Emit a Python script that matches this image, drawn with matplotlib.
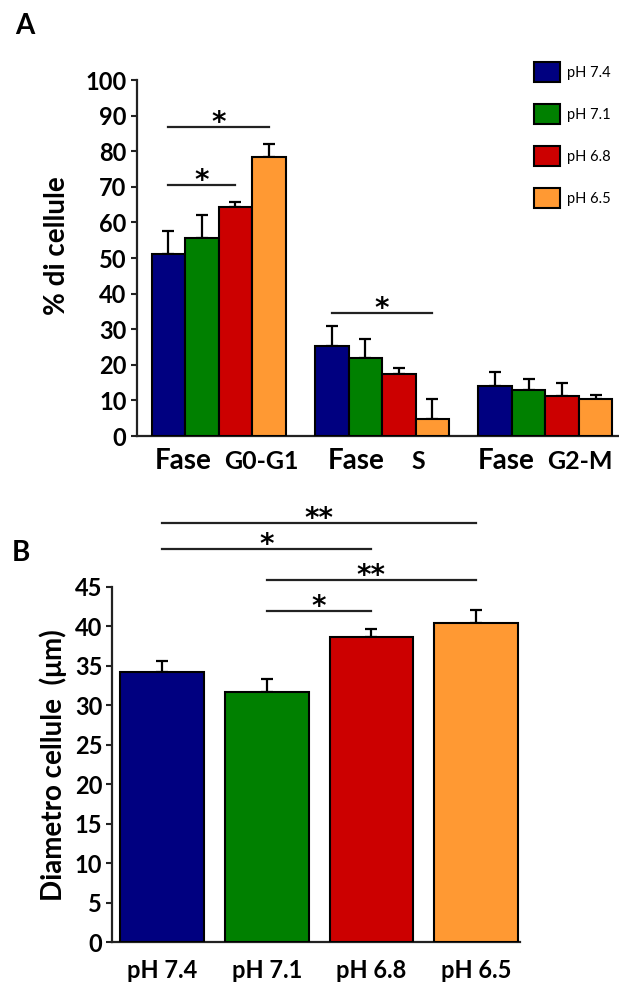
import matplotlib
matplotlib.use('Agg')
import matplotlib.pyplot as plt
from matplotlib.patches import Patch
import matplotlib.transforms as mtransforms
import numpy as np

plt.rcParams['font.family'] = ['Lato', 'DejaVu Sans']
plt.rcParams['font.weight'] = 'bold'

# ---------------- data ----------------
series = ['pH 7.4', 'pH 7.1', 'pH 6.8', 'pH 6.5']
colors = ['#000080', '#008000', '#CC0000', '#FF9933']
phases = ['G0-G1', 'S', 'G2-M']

pct_74 = [51.2, 25.3, 14.0]
pct_71 = [55.7, 21.9, 12.9]
pct_68 = [64.4, 17.4, 11.2]
pct_65 = [78.5, 4.8, 10.4]
err_74 = [6.4, 5.6, 4.0]
err_71 = [6.5, 5.3, 3.1]
err_68 = [1.4, 1.7, 3.7]
err_65 = [3.4, 5.6, 1.1]

diam = [34.2, 31.7, 38.7, 40.5]
diam_err = [1.4, 1.6, 1.0, 1.6]

# significance: (group, bar_i, bar_j, y, label)
sig_A = [(0, 0, 3, 86.8, '*'), (0, 0, 2, 70.5, '*'), (1, 0, 3, 34.5, '*')]
# (bar_i, bar_j, y, label)
sig_B = [(0, 3, 53.1, '**'), (0, 2, 49.8, '*'), (1, 3, 45.9, '**'), (1, 2, 42.0, '*')]

W, H = 619, 984
fig = plt.figure(figsize=(W / 100, H / 100), dpi=100)

def px_axes(l, t, r, b):
    return fig.add_axes([l / W, 1 - b / H, (r - l) / W, (b - t) / H])

AX_COL = '#222222'

# ---------------- Panel A ----------------
axA = px_axes(137, 80, 619, 436)
means = [pct_74, pct_71, pct_68, pct_65]
errs = [err_74, err_71, err_68, err_65]
bw = 0.205
gx = np.arange(len(phases))
for k in range(4):
    xs = gx + (k - 1.5) * bw
    axA.errorbar(xs, means[k], yerr=[np.zeros(3), errs[k]], fmt='none',
                 ecolor='black', elinewidth=1.6, capsize=4.5, capthick=1.6, zorder=2)
    axA.bar(xs, means[k], width=bw, color=colors[k], edgecolor='black',
            linewidth=1.5, zorder=3)
axA.set_xlim(-0.5, 2.45)
axA.set_ylim(0, 100)
axA.set_yticks(np.arange(0, 101, 10))
axA.set_xticks([])
for s in ['top', 'right']:
    axA.spines[s].set_visible(False)
for s in ['left', 'bottom']:
    axA.spines[s].set_linewidth(1.6)
    axA.spines[s].set_color(AX_COL)
axA.tick_params(axis='y', direction='out', length=4.5, width=1.5, labelsize=17,
                pad=3, colors=AX_COL, labelcolor='black')
axA.set_ylabel('% di cellule', fontsize=20, fontweight='bold')
axA.yaxis.set_label_coords(-0.139, 0.534)

# category labels: "Fase" + phase name
trA = mtransforms.blended_transform_factory(axA.transData, axA.transAxes)
fase_off = [-0.391, -0.333, -0.416]
name_off = [0.031, 0.180, 0.012]
for g, name in enumerate(phases):
    axA.text(g + fase_off[g], -0.035, 'Fase', transform=trA, ha='left', va='top',
             fontsize=20, fontweight='bold')
    axA.text(g + name_off[g], -0.040, name, transform=trA, ha='left', va='top',
             fontsize=18, fontweight='bold')

for g, i, j, y, lab in sig_A:
    x1 = g + (i - 1.5) * bw
    x2 = g + (j - 1.5) * bw
    axA.plot([x1, x2], [y, y], color='#222222', lw=1.6, clip_on=False, zorder=4)
    axA.annotate(lab, xy=((x1 + x2) / 2, y), xytext=(0, -3), textcoords='offset points',
                 ha='center', va='baseline', fontsize=20, fontweight='bold',
                 family=['DejaVu Sans'], annotation_clip=False)

handles = [Patch(facecolor=c, edgecolor='black', linewidth=1.5) for c in colors]
fig.legend(handles, series, loc='upper left', bbox_to_anchor=(534 / W, 1 - 62 / H),
           frameon=False, handlelength=1.75, handleheight=1.75,
           labelspacing=1.5, handletextpad=0.5, borderpad=0, borderaxespad=0,
           prop={'weight': 'normal', 'size': 10.5})

fig.text(15 / W, 1 - 26 / H, 'A', fontsize=20, fontweight='bold', va='center', ha='left')

# ---------------- Panel B ----------------
axB = px_axes(112, 587, 520, 942)
xb = np.arange(len(series))
axB.errorbar(xb, diam, yerr=[np.zeros(4), diam_err], fmt='none', ecolor='black',
             elinewidth=1.6, capsize=4.5, capthick=1.6, zorder=2)
axB.bar(xb, diam, width=0.8, color=colors, edgecolor='black', linewidth=1.5, zorder=3)
axB.set_xlim(-0.478, 3.42)
axB.set_ylim(0, 45)
axB.set_yticks(np.arange(0, 46, 5))
axB.set_xticks(xb)
axB.set_xticklabels(series)
for s in ['top', 'right']:
    axB.spines[s].set_visible(False)
for s in ['left', 'bottom']:
    axB.spines[s].set_linewidth(1.6)
    axB.spines[s].set_color(AX_COL)
axB.tick_params(axis='y', direction='out', length=4, width=1.5, labelsize=17,
                pad=3, colors=AX_COL, labelcolor='black')
axB.tick_params(axis='x', length=0, labelsize=17, pad=12, labelcolor='black')
axB.set_ylabel('Diametro cellule  (μm)', fontsize=20, fontweight='bold')
axB.yaxis.set_label_coords(-0.110, 0.499)

for i, j, y, lab in sig_B:
    axB.plot([i, j], [y, y], color='#222222', lw=1.6, clip_on=False, zorder=4)
    axB.annotate(lab, xy=((i + j) / 2, y), xytext=(0, -3), textcoords='offset points',
                 ha='center', va='baseline', fontsize=20, fontweight='bold',
                 family=['DejaVu Sans'], annotation_clip=False)

fig.text(12 / W, 1 - 553 / H, 'B', fontsize=20, fontweight='bold', va='center', ha='left')

fig.savefig('out.png', dpi=100)
